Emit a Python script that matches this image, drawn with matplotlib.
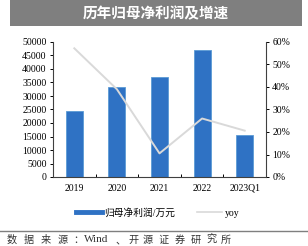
import matplotlib
matplotlib.use("Agg")
import matplotlib.pyplot as plt
from matplotlib.patches import Rectangle
from matplotlib.lines import Line2D
from matplotlib.ticker import FuncFormatter

categories = ["2019", "2020", "2021", "2022", "2023Q1"]
profit = [24400, 33400, 37100, 47000, 15500]
yoy = [57.2, 39.0, 10.5, 26.0, 20.6]

cjk = ["Noto Sans CJK SC", "DejaVu Sans"]
serif = ["Liberation Serif", "Noto Sans CJK SC"]

fig = plt.figure(figsize=(3.08, 2.46), dpi=100)
W, H = 308, 246

# Title box
fig.patches.append(Rectangle((10 / W, 1 - 26 / H), 292 / W, 26 / H,
                             transform=fig.transFigure, facecolor="#7f7f7f",
                             edgecolor="none"))
fig.text(156 / W, 1 - 13 / H, "历年归母净利润及增速", family=cjk, fontsize=10.5,
         fontweight="bold", color="white", ha="center", va="center")

ax = fig.add_axes([53 / W, 1 - 177 / H, (266 - 53) / W, (177 - 42) / H])
x = range(len(categories))
ax.bar(x, profit, width=0.4, color="#2f72c4", edgecolor="#5b9bd5", linewidth=0.6,
       zorder=2)
ax.set_xlim(-0.5, len(categories) - 0.5)
ax.set_ylim(0, 50000)
ax.set_yticks(range(0, 50001, 5000))
ax.set_xticks(list(x))
ax.set_xticklabels(categories, family=serif, fontsize=7)
for lab in ax.get_yticklabels():
    lab.set_family(serif)
    lab.set_fontsize(7)
for s in ["top", "right"]:
    ax.spines[s].set_visible(False)
for s in ["left", "bottom"]:
    ax.spines[s].set_color("#404040")
    ax.spines[s].set_linewidth(0.8)
ax.tick_params(axis="y", length=2.5, width=0.7, pad=2, colors="#000000")
ax.tick_params(axis="x", length=0, pad=5)
ax.set_xticks([i + 0.5 for i in range(len(categories) - 1)], minor=True)
ax.tick_params(axis="x", which="minor", length=2.5, width=0.7, direction="in")

ax2 = ax.twinx()
ax2.plot(list(x), yoy, color="#d9d9d9", linewidth=1.4, zorder=3)
ax2.set_ylim(0, 60)
ax2.set_yticks(range(0, 61, 10))
ax2.yaxis.set_major_formatter(FuncFormatter(lambda v, p: f"{int(v)}%"))
for lab in ax2.get_yticklabels():
    lab.set_family(serif)
    lab.set_fontsize(7)
for s in ["top", "left", "bottom"]:
    ax2.spines[s].set_visible(False)
ax2.spines["right"].set_color("#404040")
ax2.spines["right"].set_linewidth(0.8)
ax2.tick_params(axis="y", length=2.5, width=0.7, pad=2)

handles = [Line2D([0], [0], color="#2f72c4", linewidth=3.5),
           Line2D([0], [0], color="#d9d9d9", linewidth=1.2)]
fig.legend(handles, ["归母净利润/万元", "yoy"], loc="center",
           bbox_to_anchor=(158 / W, 1 - 213 / H), ncol=2, frameon=False,
           prop={"family": serif, "size": 7}, handlelength=2.6,
           columnspacing=2.2, handletextpad=0.3)

fig.add_artist(Line2D([0 / W, 308 / W], [1 - 231 / H, 1 - 231 / H],
                      transform=fig.transFigure, color="#7f7f7f", linewidth=1.0))

# Source note, laid out with wide character spacing
source_parts = [("数", 7), ("据", 24), ("来", 41), ("源", 58), ("：", 73),
                ("Wind", 84), ("、", 115), ("开", 128), ("源", 143), ("证", 159),
                ("券", 175), ("研", 191), ("究", 206), ("所", 221)]
for ch, px in source_parts:
    fam = serif if ch == "Wind" else cjk
    fig.text(px / W, 1 - 240 / H, ch, family=fam,
             fontsize=8 if ch == "Wind" else 7.3,
             color="#333333", ha="left", va="center")

fig.savefig("out.png", dpi=100)
